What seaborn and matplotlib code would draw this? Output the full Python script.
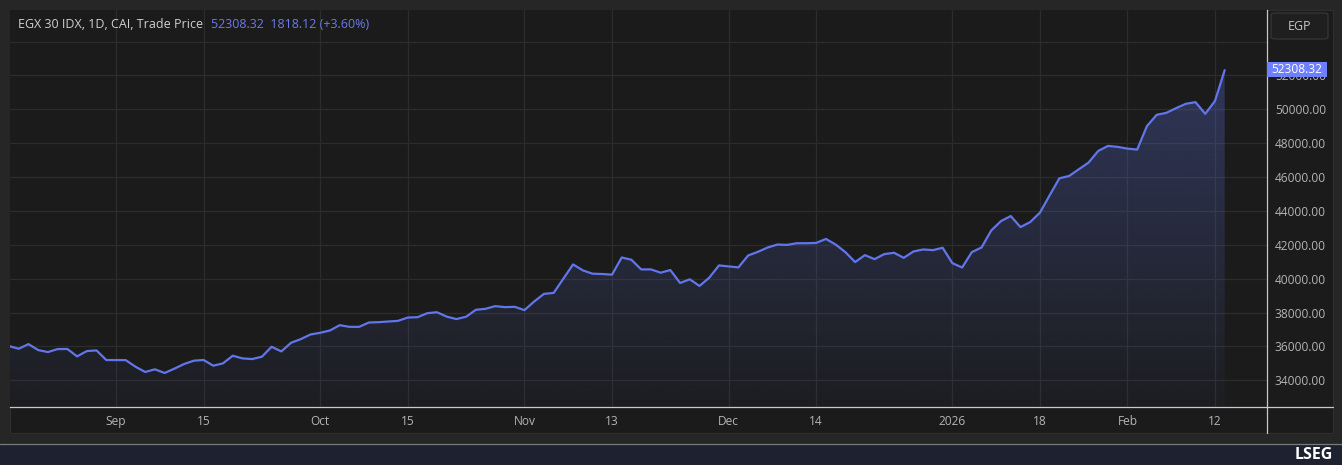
import numpy as np
import pandas as pd
import matplotlib
matplotlib.use("Agg")
import matplotlib.pyplot as plt
import seaborn as sns
from matplotlib.patches import Rectangle, FancyBboxPatch
from matplotlib.lines import Line2D
from matplotlib.transforms import IdentityTransform

# ---------------- data ----------------
holidays = ["2025-09-04", "2025-10-06", "2026-01-01", "2026-01-07", "2026-01-25"]
trade_dates = pd.bdate_range("2025-08-17", "2026-02-15", freq="C",
                             weekmask="Sun Mon Tue Wed Thu", holidays=holidays)

prices = [
    36020, 35863, 36137, 35784, 35667, 35843, 35850, 35412, 35726, 35765,
    35196, 35196, 35190, 34804, 34491, 34648, 34432, 34687, 34961, 35157,
    35200, 34863, 35000, 35451, 35294, 35255, 35392, 35980, 35706, 36216,
    36431, 36706, 36804, 36941, 37254, 37156, 37156, 37411, 37431, 37470,
    37509, 37705, 37725, 37960, 38019, 37760, 37615, 37752, 38162, 38221,
    38378, 38319, 38338, 38143, 38651, 39101, 39159, 40000, 40841, 40489,
    40293, 40274, 40235, 41251, 41114, 40547, 40547, 40352, 40508, 39746,
    39961, 39570, 40059, 40782, 40723, 40665, 41369, 41584, 41838, 42014,
    41994, 42092, 42092, 42111, 42346, 42014, 41564, 40978, 41388, 41153,
    41450, 41527, 41231, 41606, 41724, 41684, 41823, 40915, 40659, 41566,
    41842, 42848, 43400, 43696, 43045, 43341, 43893, 44919, 45924, 46062,
    46457, 46851, 47541, 47837, 47778, 47679, 47620, 49001, 49671, 49789,
    50065, 50322, 50420, 49730, 50490.20, 52308.32,
]

tick_dates = ["2025-09-01", "2025-09-15", "2025-10-01", "2025-10-15", "2025-11-02",
              "2025-11-13", "2025-12-01", "2025-12-14", "2026-01-04", "2026-01-18",
              "2026-02-01", "2026-02-12"]
tick_labels = ["Sep", "15", "Oct", "15", "Nov", "13", "Dec", "14", "2026", "18", "Feb", "12"]
price_ticks = [34000, 36000, 38000, 40000, 42000, 44000, 46000, 48000, 50000, 52000, 54000]

title_text = "EGX 30 IDX, 1D, CAI, Trade Price"
last_text = "52308.32  1818.12 (+3.60%)"
currency = "EGP"

df = pd.DataFrame({"date": trade_dates, "price": prices})
df["pos"] = np.arange(len(df))
tick_pos = [int(np.where(trade_dates == pd.Timestamp(d))[0][0]) for d in tick_dates]

# ---------------- style ----------------
W, H, DPI = 1342, 465, 100
sns.set_style("dark")
plt.rcParams["font.family"] = ["Open Sans", "DejaVu Sans"]

FS = 9.0
FS_AX = 8.6
BG_OUT = "#262626"
BG_PANEL = "#1b1b1b"
GRID = "#2c2c2c"
LINE = "#6176ea"
TXT = "#b4b4b4"
AXLINE = "#c8c8c8"

fig = plt.figure(figsize=(W / DPI, H / DPI), dpi=DPI, facecolor=BG_OUT)

def px_rect(x0, y0_top, x1, y1_top):
    return (x0 / W, (H - y1_top) / H, (x1 - x0) / W, (y1_top - y0_top) / H)

# panel background
x, y, w, h = px_rect(10, 10, 1333, 433)
fig.add_artist(Rectangle((x, y), w, h, transform=fig.transFigure,
                         facecolor=BG_PANEL, edgecolor="#2e2e2e", lw=0.8, zorder=-5))
# footer
x, y, w, h = px_rect(0, 444, W, H)
fig.add_artist(Rectangle((x, y), w, h, transform=fig.transFigure,
                         facecolor="#1d2130", edgecolor="none", zorder=-5))
fig.add_artist(Line2D([0, 1], [(H - 443.5) / H] * 2, transform=fig.transFigure,
                      color="#7a7a7a", lw=0.9))

ax = fig.add_axes(px_rect(10, 10, 1267, 407))
ax.set_facecolor(BG_PANEL)

sns.lineplot(data=df, x="pos", y="price", ax=ax, color=LINE, lw=1.6, zorder=3)

# gradient fill below line
poly = ax.fill_between(df["pos"], df["price"], 32424, facecolor="none", edgecolor="none")
ngrad = 256
alphas = np.linspace(0.03, 0.30, ngrad)
rgb = matplotlib.colors.to_rgb(LINE)
grad = np.zeros((ngrad, 1, 4))
grad[:, 0, :3] = rgb
grad[:, 0, 3] = alphas
im = ax.imshow(grad, aspect="auto", origin="lower",
               extent=[0, len(df) - 1, 32424, max(prices)], zorder=2,
               interpolation="bilinear")
im.set_clip_path(poly.get_paths()[0], transform=ax.transData)
ax.set_xlim(0.1, 129.35)
ax.set_ylim(32424, 55860)

# ticks
ax.set_xticks(tick_pos)
ax.set_xticklabels(tick_labels)
ax.set_yticks(price_ticks)
ax.set_yticklabels([f"{v:.2f}" if v < 54000 else "" for v in price_ticks])
ax.yaxis.tick_right()
ax.tick_params(axis="x", length=0, pad=5.5, colors=TXT, labelsize=FS_AX)
ax.tick_params(axis="y", length=0, pad=5.6, colors=TXT, labelsize=FS_AX)
for lbl in ax.get_yticklabels():
    lbl.set_horizontalalignment("left")
ax.grid(True, color=GRID, lw=0.9)
ax.set_axisbelow(True)
ax.set_xlabel("")
ax.set_ylabel("")
for s in ["top", "left"]:
    ax.spines[s].set_visible(False)
for s in ["right", "bottom"]:
    ax.spines[s].set_color(AXLINE)
    ax.spines[s].set_linewidth(0.9)

# axis line extensions
fig.add_artist(Line2D([1267 / W, 1333 / W], [(H - 407) / H] * 2, transform=fig.transFigure,
                      color=AXLINE, lw=0.9))
fig.add_artist(Line2D([1267 / W] * 2, [(H - 407) / H, (H - 433) / H], transform=fig.transFigure,
                      color=AXLINE, lw=0.9))

# currency box
x, y, w, h = px_rect(1271, 13, 1328, 39)
fig.add_artist(FancyBboxPatch((x, y), w, h, transform=fig.transFigure,
                              boxstyle="round,pad=0,rounding_size=0.004",
                              facecolor="#1f1f1f", edgecolor="#363636", lw=0.9))
fig.text(1299.5 / W, (H - 26) / H, currency, color="#c8c8c8", fontsize=FS,
         ha="center", va="center")

# last price box
fig.canvas.draw()
ydisp = ax.transData.transform((0, prices[-1]))[1]
fig.add_artist(Rectangle((1267, ydisp - 6.5), 60, 15, transform=IdentityTransform(),
                         facecolor="#6e80ff", edgecolor="none", zorder=20))
fig.text(1297 / W, (ydisp + 1) / H, f"{prices[-1]:.2f}", color="white", fontsize=FS_AX,
         ha="center", va="center", zorder=21)

# header
t1 = fig.text(18 / W, (H - 25) / H, title_text, color="#cfcfcf", fontsize=FS,
              ha="left", va="center", zorder=21)
fig.canvas.draw()
bb = t1.get_window_extent()
fig.text((bb.x1 + 8) / W, (H - 25) / H, last_text, color="#6b7be8", fontsize=FS,
         ha="left", va="center", zorder=21)

# footer logo text
fig.text(1333 / W, (H - 454.5) / H, "LSEG", color="white", fontsize=11.5,
         fontweight="bold", ha="right", va="center")

fig.savefig("out.png", dpi=DPI, facecolor=BG_OUT)
